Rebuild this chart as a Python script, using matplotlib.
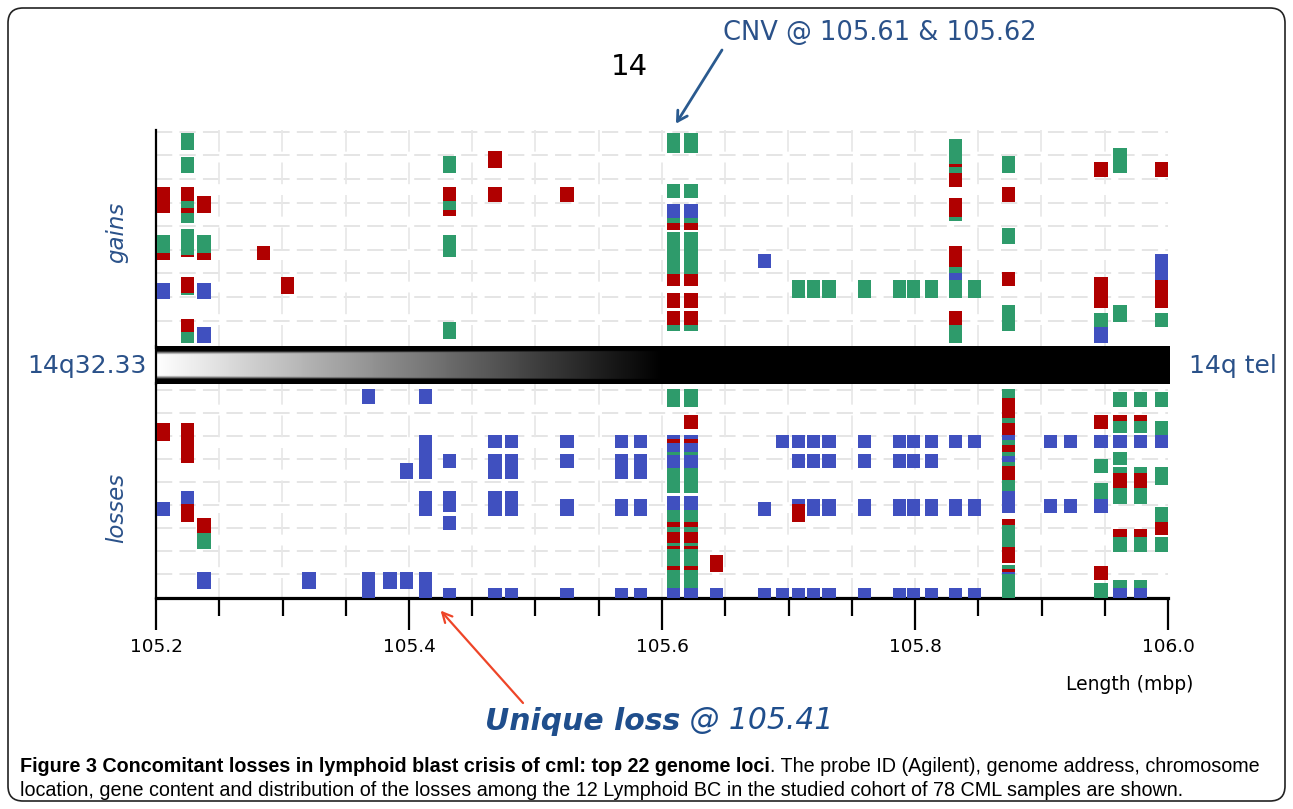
import numpy as np
import matplotlib
matplotlib.use("Agg")
import matplotlib.pyplot as plt
from matplotlib.ticker import FixedLocator, MultipleLocator
from matplotlib.patches import FancyBboxPatch
from matplotlib import font_manager

W, H = 1293, 809

RED, GREEN, BLUE = "#b00000", "#2e9b6b", "#4050bf"
COLOURS = {"r": RED, "g": GREEN, "b": BLUE}
TEXT_BLUE = "#2a5189"

# x axis (mbp)
major_ticks = [105.2, 105.4, 105.6, 105.8, 106.0]
major_labels = ["105.2", "105.4", "105.6", "105.8", "106.0"]

# blocks per probe: (position mbp, [(top, bottom, colour), ...])
# vertical unit = sample sub-track, 0 at the top of each panel
cnv_gain = [(0.3, 2.6, "g"), (6.0, 7.6, "g"), (8.2, 9.8, "b"), (9.8, 10.3, "g"),
            (10.3, 11.1, "r"), (11.3, 16.0, "g"), (16.0, 17.3, "r"), (18.1, 19.8, "r"),
            (20.1, 21.7, "r"), (21.7, 22.3, "g")]
gain_band = [(16.7, 18.6, "g")]
gain_band_pos = [105.708, 105.720, 105.732, 105.760, 105.788, 105.799, 105.813, 105.847]

gain_blocks = [
    (105.206, [(6.3, 9.2, "r"), (11.7, 13.6, "g"), (13.6, 14.4, "r"), (17.0, 18.8, "b")]),
    (105.225, [(0.3, 2.2, "g"), (3.0, 4.8, "g"), (6.3, 7.9, "r"), (7.9, 8.7, "g"),
               (8.7, 9.2, "r"), (9.2, 10.3, "g"), (11.0, 13.9, "g"), (13.9, 14.1, "r"),
               (16.3, 18.1, "r"), (18.1, 18.3, "g"), (21.0, 22.4, "r"), (22.4, 23.6, "g")]),
    (105.238, [(7.3, 9.2, "r"), (11.7, 13.6, "g"), (13.6, 14.4, "r"), (17.0, 18.8, "b"),
               (21.9, 23.6, "b")]),
    (105.285, [(12.9, 14.4, "r")]),
    (105.304, [(16.3, 18.2, "r")]),
    (105.432, [(2.9, 4.8, "g"), (6.3, 7.9, "r"), (7.9, 8.9, "g"), (8.9, 9.6, "r"),
               (11.7, 14.1, "g"), (21.3, 23.2, "g")]),
    (105.468, [(2.3, 4.2, "r"), (6.3, 8.0, "r")]),
    (105.525, [(6.3, 8.0, "r")]),
    (105.609, cnv_gain),
    (105.623, cnv_gain),
    (105.681, [(13.8, 15.3, "b")]),
    (105.832, [(1.0, 3.8, "g"), (3.8, 4.1, "r"), (4.1, 4.8, "g"), (4.8, 6.3, "r"),
               (7.6, 9.7, "r"), (9.7, 10.1, "g"), (12.9, 15.2, "r"), (15.2, 15.9, "g"),
               (15.9, 16.6, "b"), (16.6, 18.6, "g"), (20.1, 21.6, "r"), (21.6, 23.6, "g")]),
    (105.874, [(2.9, 4.8, "g"), (6.3, 8.0, "r"), (10.9, 12.6, "g"), (15.8, 17.3, "r"),
               (19.4, 22.3, "g")]),
    (105.947, [(3.6, 5.2, "r"), (16.3, 19.8, "r"), (20.3, 21.9, "g"), (21.9, 23.6, "b")]),
    (105.962, [(2.0, 4.8, "g"), (19.4, 21.3, "g")]),
    (105.995, [(3.6, 5.2, "r"), (13.8, 16.7, "b"), (16.7, 19.8, "r"), (20.3, 21.9, "g")]),
] + [(p, gain_band) for p in gain_band_pos]

cnv_loss = [(0.7, 2.7, "g"), (5.8, 6.2, "b"), (6.2, 6.7, "r"), (6.7, 7.7, "b"),
            (7.7, 8.0, "g"), (8.0, 9.4, "b"), (9.4, 12.2, "g"), (12.6, 14.1, "b"),
            (14.1, 15.4, "g"), (15.4, 16.0, "r"), (16.0, 16.6, "g"), (16.6, 17.8, "r"),
            (17.8, 18.1, "g"), (18.1, 18.4, "r"), (18.4, 20.3, "g"), (20.3, 20.8, "r"),
            (20.8, 22.8, "g"), (22.8, 23.9, "b")]
loss_common = [(5.8, 7.2, "b"), (7.9, 9.4, "b"), (12.9, 14.8, "b"), (22.8, 23.9, "b")]
loss_common_pos = [105.525, 105.720, 105.732, 105.760, 105.788, 105.799, 105.813]
loss_tall = [(5.8, 7.2, "b"), (7.9, 10.7, "b"), (12.9, 14.8, "b"), (22.8, 23.9, "b")]
loss_tall_pos = [105.568, 105.583]
loss_wide = [(5.8, 7.2, "b"), (7.9, 10.7, "b"), (12.0, 14.8, "b"), (22.8, 23.9, "b")]
loss_wide_pos = [105.468, 105.481]
loss_short = [(5.8, 7.2, "b"), (12.9, 14.8, "b"), (22.8, 23.9, "b")]
loss_short_pos = [105.832, 105.847]
loss_pair = [(5.8, 7.2, "b"), (12.9, 14.4, "b")]
loss_pair_pos = [105.907, 105.923]

loss_blocks = [
    (105.206, [(4.4, 6.4, "r"), (13.2, 14.8, "b")]),
    (105.225, [(4.4, 8.9, "r"), (12.0, 13.4, "b"), (13.4, 15.4, "r")]),
    (105.238, [(15.0, 16.7, "r"), (16.7, 18.4, "g"), (21.0, 22.9, "b")]),
    (105.321, [(21.0, 22.9, "b")]),
    (105.368, [(0.7, 2.3, "b"), (21.0, 23.9, "b")]),
    (105.385, [(21.0, 22.9, "b")]),
    (105.398, [(8.9, 10.7, "b"), (21.0, 22.9, "b")]),
    (105.413, [(0.7, 2.3, "b"), (5.8, 10.7, "b"), (12.0, 14.8, "b"), (21.0, 23.9, "b")]),
    (105.432, [(7.9, 9.4, "b"), (12.0, 14.3, "b"), (14.8, 16.3, "b"), (22.8, 23.9, "b")]),
    (105.609, cnv_loss),
    (105.623, [(3.6, 5.1, "r")] + cnv_loss),
    (105.643, [(19.1, 21.0, "r"), (22.8, 23.9, "b")]),
    (105.681, [(13.2, 14.8, "b"), (22.8, 23.9, "b")]),
    (105.695, [(5.8, 7.2, "b"), (22.8, 23.9, "b")]),
    (105.708, [(5.8, 7.2, "b"), (7.9, 9.4, "b"), (12.9, 13.4, "b"), (13.4, 15.4, "r"),
               (22.8, 23.9, "b")]),
    (105.874, [(0.7, 1.7, "g"), (1.7, 3.9, "r"), (3.9, 4.4, "g"), (4.4, 5.8, "r"),
               (5.8, 6.3, "b"), (6.3, 6.9, "g"), (6.9, 7.7, "r"), (7.7, 8.1, "g"),
               (8.1, 8.8, "b"), (8.8, 9.2, "g"), (9.2, 10.8, "r"), (10.8, 12.0, "g"),
               (12.0, 14.4, "b"), (15.1, 15.8, "r"), (15.8, 18.2, "g"), (18.2, 20.0, "r"),
               (20.2, 20.7, "g"), (20.7, 21.0, "r"), (21.0, 21.2, "b"), (21.2, 23.9, "g")]),
    (105.947, [(3.6, 5.1, "r"), (5.8, 7.2, "b"), (8.4, 10.0, "g"), (11.1, 12.9, "g"),
               (12.9, 14.4, "b"), (20.3, 21.9, "r"), (22.2, 23.9, "g")]),
    (105.962, [(1.0, 2.7, "g"), (3.6, 4.2, "r"), (4.2, 5.6, "g"), (5.8, 7.2, "b"),
               (7.7, 9.1, "g"), (9.3, 10.0, "g"), (10.0, 11.7, "r"), (11.7, 13.4, "g"),
               (16.2, 17.1, "r"), (17.1, 18.8, "g"), (21.9, 22.8, "g"), (22.8, 23.9, "b")]),
    (105.978, [(1.0, 2.7, "g"), (3.6, 4.2, "r"), (4.2, 5.6, "g"), (5.8, 7.2, "b"),
               (9.3, 10.0, "g"), (10.0, 11.7, "r"), (11.7, 13.4, "g"),
               (16.2, 17.1, "r"), (17.1, 18.8, "g"), (21.9, 22.8, "g"), (22.8, 23.9, "b")]),
    (105.995, [(1.0, 2.7, "g"), (4.2, 5.8, "g"), (5.8, 7.2, "b"), (9.3, 11.3, "g"),
               (13.8, 15.4, "g"), (15.4, 16.9, "r"), (17.1, 18.8, "g")]),
]
for pat, plist in [(loss_common, loss_common_pos), (loss_tall, loss_tall_pos),
                   (loss_wide, loss_wide_pos), (loss_short, loss_short_pos),
                   (loss_pair, loss_pair_pos)]:
    loss_blocks += [(p, pat) for p in plist]

BLOCK_W = 0.0105


def fx(px):
    return px / W


def fy(py):
    return 1 - py / H


def box(x0, y0, x1, y1):
    return [x0 / W, 1 - y1 / H, (x1 - x0) / W, (y1 - y0) / H]


def draw_blocks(ax, blocks):
    xs, bottoms, heights, cols = [], [], [], []
    for pos, segs in blocks:
        for top, bot, c in segs:
            xs.append(pos)
            bottoms.append(top)
            heights.append(bot - top)
            cols.append(COLOURS[c])
    ax.bar(xs, heights, bottom=bottoms, width=BLOCK_W, color=cols,
           linewidth=0, clip_on=False, zorder=3)


def style_panel(ax, ymax, grid_y):
    ax.set_xlim(105.2, 106.0)
    ax.set_ylim(ymax, 0)
    for s in ["top", "right", "bottom"]:
        ax.spines[s].set_visible(False)
    ax.spines["left"].set_linewidth(1.6)
    ax.set_yticks([])
    ax.hlines(grid_y, 105.2, 106.0, colors="#e3e3e3", linewidth=1.3,
              linestyles=(0, (9, 4)), zorder=1)
    ax.vlines(np.arange(105.25, 105.99, 0.05), 0, ymax, colors="#e8e8e8",
              linewidth=1.3, linestyles=(0, (12, 6)), zorder=1)


fig = plt.figure(figsize=(W / 100, H / 100), dpi=100)
fig.patch.set_facecolor("white")

ax_g = fig.add_axes(box(156, 130, 1168, 348))
ax_l = fig.add_axes(box(156, 383, 1168, 598))
ax_c = fig.add_axes(box(156, 346, 1170, 384), zorder=5)

style_panel(ax_g, 24.2, 0.2 + 2.62 * np.arange(9))
ax_g.set_xticks([])
draw_blocks(ax_g, gain_blocks)

style_panel(ax_l, 23.9, 0.8 + 2.56 * np.arange(9))
ax_l.spines["bottom"].set_visible(True)
ax_l.spines["bottom"].set_linewidth(2.3)
ax_l.xaxis.set_major_locator(FixedLocator(major_ticks))
ax_l.set_xticklabels(major_labels)
ax_l.xaxis.set_minor_locator(MultipleLocator(0.05))
ax_l.tick_params(axis="x", which="major", length=23, width=1.6, pad=6, labelsize=13.3)
ax_l.tick_params(axis="x", which="minor", length=13, width=1.6)
draw_blocks(ax_l, loss_blocks)

# chromosome band: white at the centromere side fading to black at the telomere
x_end = 105.2 + (1170 - 156) / 1265
xx = np.linspace(105.2, x_end, 500)
vv = np.linspace(0, 1, 60)
horiz = np.clip((xx - 105.2) / 0.4, 0, 1)
edge = np.clip(1 - (np.minimum(vv, 1 - vv) - 0.12) / 0.1, 0, 1)
dark = np.maximum(horiz[None, :], edge[:, None])
ax_c.imshow(1 - dark, cmap="gray", vmin=0, vmax=1, aspect="auto",
            extent=[105.2, x_end, 0, 1], interpolation="bilinear")
ax_c.set_xlim(105.2, x_end)
ax_c.set_ylim(0, 1)
ax_c.set_xticks([])
ax_c.set_yticks([])
for s in ["top", "right", "bottom"]:
    ax_c.spines[s].set_visible(False)
ax_c.spines["left"].set_linewidth(1.6)

# labels
fig.text(fx(87), fy(366), "14q32.33", ha="center", va="center", fontsize=18, color=TEXT_BLUE)
fig.text(fx(1233), fy(366), "14q tel", ha="center", va="center", fontsize=18, color=TEXT_BLUE)
fig.text(fx(117), fy(232), "gains", ha="center", va="center", rotation=90,
         style="italic", fontsize=16.5, color=TEXT_BLUE)
fig.text(fx(117), fy(508), "losses", ha="center", va="center", rotation=90,
         style="italic", fontsize=16.5, color=TEXT_BLUE)
fig.text(fx(629), fy(67), "14", ha="center", va="center", fontsize=21, color="black")
fig.text(fx(880), fy(33), "CNV @ 105.61 & 105.62", ha="center", va="center",
         fontsize=18.5, color=TEXT_BLUE)
fig.text(fx(1193), fy(685), "Length (mbp)", ha="right", va="center", fontsize=13.5)

ax_g.annotate("", xy=(105.611, -0.7), xycoords="data",
              xytext=(722, H - 50), textcoords="figure pixels",
              arrowprops=dict(arrowstyle="->,head_length=0.7,head_width=0.4",
                              color="#2a5a8f", lw=2.0, shrinkA=0, shrinkB=0),
              annotation_clip=False)
ax_l.annotate("", xy=(105.425, 25.3), xycoords="data",
              xytext=(523, H - 703), textcoords="figure pixels",
              arrowprops=dict(arrowstyle="->,head_length=0.7,head_width=0.35",
                              color="#ee4528", lw=1.6, shrinkA=0, shrinkB=0),
              annotation_clip=False)

t_u = fig.text(fx(485), fy(721), "Unique loss", ha="left", va="center",
               fontsize=21.5, fontweight="bold", style="italic", color="#1f4e8c")
ax_l.annotate(" @ 105.41", xy=(1, 0), xycoords=t_u, ha="left", va="bottom",
              fontsize=21.5, style="italic", color="#1f4e8c", annotation_clip=False)

# caption
names = {f.name for f in font_manager.fontManager.ttflist}
cap_family = "Liberation Sans" if "Liberation Sans" in names else "DejaVu Sans"
t_c = fig.text(fx(20), fy(766), "Figure 3 Concomitant losses in lymphoid blast crisis of cml: top 22 genome loci",
               ha="left", va="center", fontsize=14.2, fontweight="bold", family=cap_family)
ax_l.annotate(". The probe ID (Agilent), genome address, chromosome", xy=(1, 0), xycoords=t_c,
              ha="left", va="bottom", fontsize=14.2, family=cap_family, annotation_clip=False)
fig.text(fx(20), fy(791), "location, gene content and distribution of the losses among the 12 Lymphoid BC "
         "in the studied cohort of 78 CML samples are shown.",
         ha="left", va="center", fontsize=14.2, family=cap_family)

frame = FancyBboxPatch((8 / 100, 8 / 100), 1277 / 100, 793 / 100,
                       boxstyle="round,pad=0,rounding_size=0.15",
                       transform=fig.dpi_scale_trans, fill=False,
                       edgecolor="#222222", linewidth=1.2)
fig.add_artist(frame)

fig.savefig("out.png", dpi=100)
